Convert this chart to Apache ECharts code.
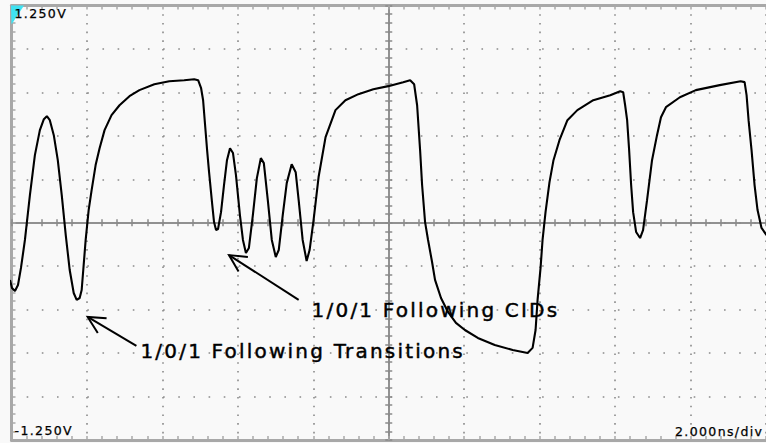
<!DOCTYPE html>
<html>
<head>
<meta charset="utf-8">
<script src="https://cdn.jsdelivr.net/npm/echarts@6/dist/echarts.min.js"></script>
<style>
  html, body { margin: 0; padding: 0; background: #f9f9f9; }
  #chart { width: 766px; height: 443px; overflow: hidden; }
  /* scope-style spaced lettering */
  #chart text { letter-spacing: 0.11em; }
</style>
</head>
<body>
<div id="chart"></div>
<script>
// Captured trace: time (ns, 0 = screen centre) and voltage (V)
const timeNs = [
  -10.040, -9.987, -9.908, -9.828, -9.749, -9.644, -9.512, -9.380, -9.248, -9.142,
  -9.063, -8.984, -8.879, -8.773, -8.668, -8.562, -8.457, -8.351, -8.272, -8.193,
  -8.140, -8.087, -8.034, -7.955, -7.876, -7.770, -7.665, -7.533, -7.348, -7.137,
  -6.873, -6.609, -6.214, -5.818, -5.422, -5.158, -5.053, -4.974, -4.921, -4.868,
  -4.815, -4.763, -4.683, -4.631, -4.578, -4.525, -4.446, -4.367, -4.288, -4.208,
  -4.129, -4.050, -3.945, -3.865, -3.786, -3.707, -3.602, -3.496, -3.391, -3.311,
  -3.206, -3.100, -2.995, -2.916, -2.810, -2.704, -2.573, -2.467, -2.388, -2.282,
  -2.177, -2.098, -1.992, -1.860, -1.675, -1.412, -1.148, -0.805, -0.409, -0.013,
  0.383, 0.567, 0.673, 0.752, 0.831, 0.884, 0.963, 1.042, 1.148, 1.227,
  1.385, 1.570, 1.781, 2.018, 2.361, 2.810, 3.285, 3.681, 3.813, 3.892,
  3.945, 4.024, 4.077, 4.156, 4.261, 4.367, 4.525, 4.736, 5.000, 5.422,
  5.871, 6.135, 6.214, 6.266, 6.319, 6.372, 6.425, 6.478, 6.557, 6.662,
  6.741, 6.847, 6.979, 7.111, 7.216, 7.348, 7.718, 8.140, 8.773, 9.327,
  9.433, 9.485, 9.538, 9.617, 9.697, 9.776, 9.881, 10.013
];
const volts = [
  -0.329, -0.375, -0.393, -0.358, -0.260, -0.099, 0.159, 0.389, 0.533, 0.596,
  0.613, 0.590, 0.504, 0.360, 0.159, -0.071, -0.272, -0.404, -0.444, -0.433,
  -0.387, -0.243, -0.099, 0.073, 0.188, 0.332, 0.429, 0.533, 0.619, 0.676,
  0.728, 0.763, 0.797, 0.814, 0.820, 0.826, 0.820, 0.774, 0.705, 0.561,
  0.418, 0.291, 0.113, 0.004, -0.042, -0.036, 0.061, 0.217, 0.360, 0.429,
  0.401, 0.274, 0.044, -0.099, -0.174, -0.145, 0.044, 0.257, 0.372, 0.343,
  0.130, -0.099, -0.197, -0.157, 0.044, 0.228, 0.337, 0.291, 0.130, -0.099,
  -0.220, -0.157, 0.016, 0.263, 0.493, 0.648, 0.705, 0.740, 0.768, 0.786,
  0.809, 0.820, 0.797, 0.676, 0.418, 0.217, 0.004, -0.099, -0.226, -0.329,
  -0.433, -0.513, -0.576, -0.617, -0.663, -0.703, -0.732, -0.749, -0.720, -0.617,
  -0.444, -0.260, -0.099, 0.061, 0.234, 0.360, 0.475, 0.590, 0.648, 0.705,
  0.734, 0.757, 0.751, 0.676, 0.590, 0.418, 0.217, 0.061, -0.053, -0.088,
  -0.042, 0.130, 0.360, 0.504, 0.607, 0.665, 0.722, 0.763, 0.792, 0.814,
  0.809, 0.734, 0.590, 0.418, 0.217, 0.073, -0.030, -0.071
];

// Screen scale texts
const voltLabels = ['1.250V', '-1.250V'];
const scaleLabel = '2.000ns/div';

// Annotations: text anchor (left, cap-middle), arrow tail and arrow head, in ns / V
const notes = ['1/0/1 Following CIDs', '1/0/1 Following Transitions'];
const noteAnchor = [[-2.045, -0.502], [-6.583, -0.737]];
const arrowTail = [[-2.388, -0.444], [-6.689, -0.709]];
const arrowHead = [[-4.235, -0.186], [-7.982, -0.542]];

const GRID = { left: 11.5, top: 5.5, width: 758, height: 434.5 };
const FRAME = '#a8a8a8';
const GREY = '#8a8a8a';
const FONT = '"DejaVu Sans", Verdana, sans-serif';

function frameAxis(extra) {
  return Object.assign({
    type: 'value', min: -10, max: 10, interval: 2,
    axisLine: { show: true, onZero: false, lineStyle: { color: FRAME, width: 3 } },
    axisTick: { show: true, inside: true, length: 4, lineStyle: { color: FRAME, width: 1.5 } },
    minorTick: { show: true, splitNumber: 5, length: 4, lineStyle: { color: FRAME, width: 1.5 } },
    axisLabel: { show: false },
    splitLine: { show: false }
  }, extra);
}
function centreAxis(extra, kind) {
  const base = kind === 'x'
    ? { type: 'value', min: -10, max: 10, interval: 2 }
    : { type: 'value', min: -1.25, max: 1.25, interval: 0.25 };
  return Object.assign(base, {
    axisLine: { show: true, onZero: true, onZeroAxisIndex: 0, lineStyle: { color: GREY, width: 1.5 } },
    axisTick: { show: true, inside: false, length: 3.5, lineStyle: { color: GREY, width: 1.5 } },
    minorTick: { show: true, splitNumber: 5, length: 3.5, lineStyle: { color: GREY, width: 1.5 } },
    axisLabel: { show: false },
    splitLine: { show: false }
  }, extra);
}

const chart = echarts.init(document.getElementById('chart'), null, { renderer: 'svg' });

chart.setOption({
  animation: false,
  backgroundColor: '#f9f9f9',
  grid: GRID,
  xAxis: [
    frameAxis({
      position: 'bottom',
      splitLine: { show: true, lineStyle: { color: GREY, width: 1.6, type: [1.6, 7.1] } }
    }),
    frameAxis({ position: 'top' }),
    centreAxis({ position: 'bottom' }, 'x'),
    centreAxis({ position: 'top' }, 'x')
  ],
  yAxis: [
    frameAxis({
      min: -1.25, max: 1.25, interval: 0.25, position: 'left',
      splitLine: { show: true, lineStyle: { color: GREY, width: 1.6, type: [1.6, 13.56] } }
    }),
    centreAxis({ position: 'left' }, 'y'),
    centreAxis({ position: 'right' }, 'y')
  ],
  series: [
    {
      type: 'line',
      xAxisIndex: 0, yAxisIndex: 0,
      data: timeNs.map((t, i) => [t, volts[i]]),
      showSymbol: false,
      lineStyle: { color: '#000', width: 2.1 },
      z: 5
    },
    {
      type: 'custom',
      xAxisIndex: 0, yAxisIndex: 0,
      silent: true, z: 6,
      data: arrowTail.map((t, i) => [t[0], t[1], arrowHead[i][0], arrowHead[i][1]]),
      renderItem(params, api) {
        const p0 = api.coord([api.value(0), api.value(1)]);
        const p1 = api.coord([api.value(2), api.value(3)]);
        const ang = Math.atan2(p0[1] - p1[1], p0[0] - p1[0]);
        const len = 19, spread = 0.47;
        const b1 = [p1[0] + len * Math.cos(ang + spread), p1[1] + len * Math.sin(ang + spread)];
        const b2 = [p1[0] + len * Math.cos(ang - spread), p1[1] + len * Math.sin(ang - spread)];
        return {
          type: 'group',
          children: [
            { type: 'line', shape: { x1: p0[0], y1: p0[1], x2: p1[0], y2: p1[1] },
              style: { stroke: '#000', lineWidth: 2 } },
            { type: 'polyline', shape: { points: [b1, p1, b2] },
              style: { stroke: '#000', lineWidth: 2, fill: null } }
          ]
        };
      }
    },
    {
      type: 'custom',
      xAxisIndex: 0, yAxisIndex: 0,
      silent: true, z: 6,
      data: noteAnchor.map((p, i) => [p[0], p[1], i]),
      renderItem(params, api) {
        const p = api.coord([api.value(0), api.value(1)]);
        return {
          type: 'text', x: p[0], y: p[1],
          style: {
            text: notes[api.value(2)], fill: '#000',
            stroke: '#000', lineWidth: 0.45,
            font: '20px ' + FONT,
            align: 'left', verticalAlign: 'middle',
            textAlign: 'left', textVerticalAlign: 'middle'
          }
        };
      }
    }
  ],
  graphic: [
    // channel reference marker
    { type: 'polygon', z: 10,
      shape: { points: [[GRID.left - 0.5, GRID.top], [GRID.left + 12.5, GRID.top], [GRID.left, GRID.top + 19]] },
      style: { fill: '#3fe2f2' } },
    { type: 'text', z: 11, x: 14.5, y: 13.8,
      style: { text: voltLabels[0], font: '12.5px ' + FONT, fill: '#000', stroke: '#000', lineWidth: 0.25, align: 'left', verticalAlign: 'middle' } },
    { type: 'text', z: 11, x: 14.5, y: 430.5,
      style: { text: voltLabels[1], font: '12.5px ' + FONT, fill: '#000', stroke: '#000', lineWidth: 0.25, align: 'left', verticalAlign: 'middle' } },
    { type: 'text', z: 11, x: 675, y: 431,
      style: { text: scaleLabel, font: '12.5px ' + FONT, fill: '#000', stroke: '#000', lineWidth: 0.25, align: 'left', verticalAlign: 'middle' } }
  ]
});
</script>
</body>
</html>
